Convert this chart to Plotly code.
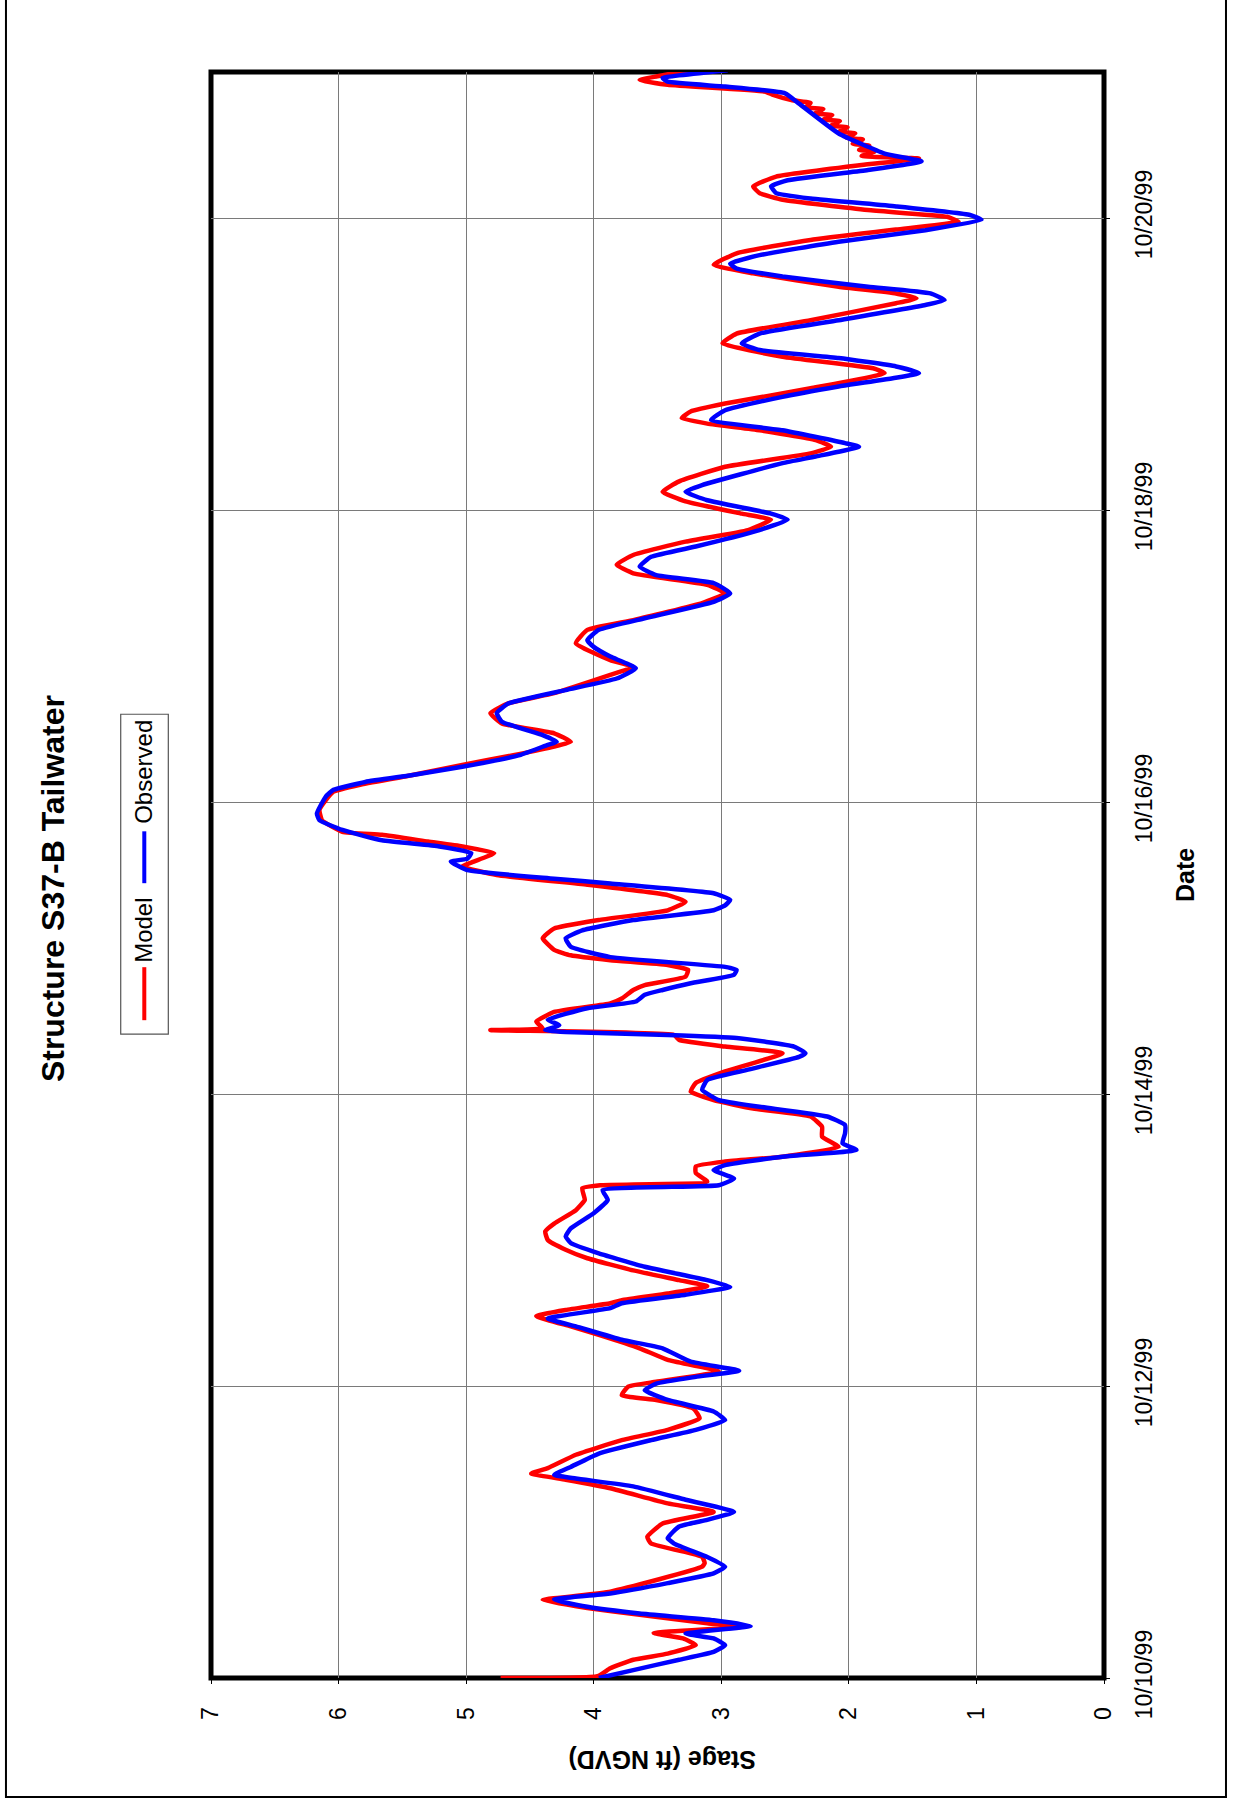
import pandas as pd
import plotly.graph_objects as go

# Hourly offsets from 10/10/99 00:00 and stage (ft NGVD) at the S37-B tailwater
model_hours = [
    0.0, 0.3, 1.6, 3.0, 4.0, 5.4, 6.5, 7.4, 8.4, 9.0, 10.4, 11.5, 12.8, 14.2,
    18.3, 18.9, 19.9, 20.5, 22.1, 23.2, 25.4, 27.3, 28.7, 31.2, 32.6, 33.6,
    34.5, 36.7, 39.1, 40.8, 42.7, 44.3, 45.7, 46.5, 47.9, 48.7, 50.4, 52.3,
    54.2, 56.4, 57.8, 59.5, 60.5, 61.6, 62.1, 63.2, 64.4, 65.4, 67.0, 69.0,
    70.4, 72.0, 73.4, 74.7, 76.9, 78.6, 80.5, 81.0, 81.6, 83.0, 84.1, 84.9,
    85.7, 87.3, 89.0, 90.6, 92.3, 93.6, 95.0, 96.4, 97.8, 99.7, 102.7, 103.8,
    104.9, 105.7, 106.5, 106.8, 107.9, 109.5, 110.9, 111.7, 113.1, 113.9,
    115.3, 116.4, 117.2, 118.0, 118.8, 119.7, 121.6, 123.2, 124.6, 126.2,
    127.6, 128.7, 130.4, 132.0, 133.4, 134.2, 135.6, 136.7, 137.5, 138.6,
    139.1, 141.0, 142.7, 144.3, 145.7, 146.8, 148.2, 150.1, 151.7, 153.1,
    153.9, 155.3, 156.9, 158.6, 160.2, 161.9, 164.9, 166.2, 167.3, 170.1,
    172.3, 173.9, 176.7, 178.3, 179.7, 181.6, 183.0, 184.6, 186.8, 188.7,
    190.4, 191.4, 193.4, 195.0, 196.7, 199.1, 201.3, 202.4, 203.5, 205.1,
    206.2, 207.1, 208.2, 209.5, 212.0, 214.5, 215.3, 217.2, 219.4, 221.0,
    223.2, 226.0, 226.8, 227.6, 228.7, 230.9, 232.3, 234.2, 236.4, 238.1,
    239.4, 240.2, 241.3, 243.0, 244.1, 245.2, 246.8, 248.7, 249.8, 250.2,
    250.9, 251.2, 251.9, 252.2, 252.9, 253.2, 253.9, 254.2, 254.9, 255.2,
    255.9, 256.2, 256.9, 257.2, 257.9, 258.2, 258.9, 259.4, 260.3, 260.8,
    261.9, 262.7, 263.3, 264.3,
]
model_stage = [
    4.73, 3.97, 3.87, 3.69, 3.42, 3.20, 3.30, 3.53, 2.84, 3.11, 3.64, 4.05, 4.40, 3.87,
    3.15, 3.13, 3.15, 3.24, 3.55, 3.58, 3.46, 3.06, 3.42, 3.87, 4.22, 4.49,
    4.36, 4.14, 3.78, 3.42, 3.17, 3.22, 3.51, 3.78, 3.73, 3.51, 3.02, 3.42,
    3.64, 3.96, 4.18, 4.45, 4.22, 3.87, 3.78, 3.42, 3.11, 3.33, 3.69, 4.05,
    4.22, 4.36, 4.38, 4.31, 4.14, 4.07, 4.09, 3.95, 3.11, 3.20, 3.20, 2.97,
    2.52, 2.08, 2.21, 2.21, 2.30, 2.75, 3.06, 3.24, 3.20, 2.97, 2.52, 2.97,
    3.33, 3.37, 4.81, 4.40, 4.45, 4.31, 3.87, 3.78, 3.69, 3.60,
    3.28, 3.26, 3.42, 3.87, 4.18, 4.31, 4.40, 4.31, 3.96, 3.42,
    3.28, 3.42, 4.05, 4.76, 5.03, 4.94, 4.78, 5.03, 5.30, 5.66,
    5.97, 6.13, 6.15, 6.10, 6.04, 5.84, 5.48, 5.03, 4.63, 4.31,
    4.18, 4.31, 4.72, 4.81, 4.67, 4.31, 3.87, 3.69, 3.87, 4.14,
    4.05, 3.69, 3.15, 2.97, 3.11, 3.69, 3.82, 3.69, 3.28, 2.79,
    2.61, 2.84, 3.28, 3.46, 3.33, 2.97, 2.30, 2.14, 2.26, 2.70,
    3.11, 3.31, 3.24, 2.97, 2.30, 1.72, 1.81, 2.52, 2.99, 2.88,
    2.30, 1.63, 1.47, 1.63, 2.08, 2.75, 3.06, 2.88, 2.30, 1.63,
    1.14, 1.23, 1.85, 2.52, 2.70, 2.75, 2.57, 1.90, 1.45, 1.90,
    1.80, 1.92, 1.84, 1.97, 1.89, 2.02, 1.95, 2.08, 2.01, 2.14,
    2.07, 2.20, 2.13, 2.27, 2.20, 2.34, 2.30, 2.45, 2.60, 2.66,
    3.42, 3.64, 3.50, 3.25,
]

observed_hours = [
    0.0, 1.3, 3.0, 4.3, 5.4, 6.5, 7.3, 8.55, 9.5, 10.6, 11.7, 12.9, 13.9, 15.6,
    17.2, 18.3, 19.9, 22.1, 23.0, 24.9, 26.0, 27.3, 29.3, 31.5, 32.8, 33.4,
    34.7, 36.9, 39.1, 40.8, 42.4, 43.8, 45.7, 47.3, 48.4, 49.5, 50.5, 52.0,
    54.2, 55.6, 57.8, 59.1, 60.8, 61.6, 63.0, 64.3, 65.4, 67.6, 69.8, 71.5,
    72.6, 73.9, 76.4, 78.6, 80.2, 81.0, 82.1, 83.5, 84.3, 85.7, 86.8, 87.9,
    89.5, 90.9, 92.3, 93.9, 95.0, 96.7, 98.3, 100.0, 102.1, 102.7, 103.8,
    105.2, 105.7, 106.2, 106.5, 107.3, 108.2, 110.1, 111.2, 112.3, 113.1,
    114.2, 115.6, 116.4, 116.9, 118.5, 120.2, 121.6, 122.9, 124.6, 126.2,
    127.0, 127.9, 129.0, 130.6, 131.4, 132.8, 134.2, 134.7, 135.6, 136.7,
    137.7, 139.4, 141.0, 142.1, 144.9, 146.0, 147.3, 148.4, 149.8, 151.7,
    153.4, 153.9, 155.0, 157.2, 158.6, 160.2, 162.4, 164.3, 166.0, 167.9,
    169.5, 170.6, 172.3, 174.2, 176.9, 178.3, 180.0, 181.3, 182.7, 184.3,
    186.0, 188.4, 190.4, 191.4, 193.6, 195.0, 196.1, 199.7, 200.8, 202.4,
    203.0, 205.1, 206.8, 208.4, 210.6, 212.3, 214.5, 215.6, 217.0, 218.3,
    219.4, 221.0, 223.2, 225.7, 226.5, 227.6, 228.7, 230.4, 231.7, 232.5,
    233.9, 236.1, 238.0, 239.7, 240.5, 241.9, 243.2, 244.1, 245.2, 246.2,
    247.9, 249.3, 250.6, 253.9, 258.8, 260.5, 261.6, 262.4, 263.0, 264.3,
]
observed_stage = [
    3.96, 3.69, 3.33, 3.06, 2.97, 3.06, 3.28, 2.77, 3.06, 3.64, 4.05, 4.31, 3.87, 3.42,
    3.06, 2.97, 3.11, 3.37, 3.42, 3.33, 3.11, 2.90, 3.28, 3.69, 4.14, 4.31,
    4.18, 3.96, 3.55, 3.20, 2.97, 3.06, 3.42, 3.60, 3.51, 3.20, 2.86, 3.24,
    3.46, 3.78, 4.14, 4.36, 3.87, 3.78, 3.28, 2.93, 3.11, 3.60, 3.96, 4.18,
    4.22, 4.18, 4.00, 3.89, 3.93, 3.02, 2.90, 3.06, 2.97, 2.52, 1.94, 2.05,
    2.03, 2.03, 2.17, 2.70, 3.02, 3.15, 3.11, 2.79, 2.39, 2.34, 2.43,
    2.88, 3.42, 4.22, 4.38, 4.27, 4.36, 4.05, 3.67, 3.60, 3.46,
    3.24, 2.90, 2.88, 2.97, 3.87, 4.18, 4.22, 4.09, 3.69, 3.06,
    2.97, 2.93, 3.06, 3.87, 4.31, 4.99, 5.12, 4.99, 4.96, 5.21,
    5.66, 5.97, 6.15, 6.17, 6.10, 6.04, 5.79, 5.43, 5.03, 4.58,
    4.36, 4.29, 4.40, 4.72, 4.76, 4.67, 4.22, 3.82, 3.67, 3.87,
    4.00, 4.05, 3.96, 3.60, 3.06, 2.93, 3.06, 3.51, 3.64, 3.55,
    3.20, 2.75, 2.48, 2.61, 3.11, 3.28, 3.15, 2.52, 2.26, 1.92,
    2.03, 2.52, 3.08, 2.97, 2.52, 2.08, 1.45, 1.63, 2.08, 2.70,
    2.84, 2.70, 2.08, 1.40, 1.25, 1.36, 1.85, 2.52, 2.88, 2.93,
    2.70, 2.08, 1.40, 0.96, 1.05, 1.63, 2.30, 2.57, 2.61, 2.48,
    1.85, 1.43, 1.72, 2.08, 2.39, 2.50, 2.97, 3.42, 3.46, 2.95,
]

start = pd.Timestamp("1999-10-10")
model_time = start + pd.to_timedelta(model_hours, unit="h")
observed_time = start + pd.to_timedelta(observed_hours, unit="h")

FONT = "Liberation Sans, Arial, sans-serif"

fig = go.Figure()
fig.add_trace(go.Scatter(x=model_stage, y=model_time, mode="lines", name="Model",
                         line=dict(color="#FF0000", width=4.5, shape="spline", smoothing=0.4),
                         showlegend=False))
fig.add_trace(go.Scatter(x=observed_stage, y=observed_time, mode="lines", name="Observed",
                         line=dict(color="#0000FF", width=4.5, shape="spline", smoothing=0.4),
                         showlegend=False))

# Page is laid out sideways: stage runs right-to-left, time runs bottom-to-top
fig.update_xaxes(
    range=[7, 0], dtick=1, tick0=0,
    showgrid=True, gridcolor="#7a7a7a", gridwidth=1,
    zeroline=False, showline=False,
    ticks="outside", ticklen=5, tickcolor="black",
    tickangle=-90, tickfont=dict(family=FONT, size=23, color="black"),
    ticklabelstandoff=14,
)
fig.update_yaxes(
    type="date", side="right",
    range=["1999-10-10", "1999-10-21"],
    tick0="1999-10-10", dtick=2 * 86400000, tickformat="%m/%d/%y",
    showgrid=True, gridcolor="#7a7a7a", gridwidth=1,
    zeroline=False, showline=False,
    ticks="outside", ticklen=5, tickcolor="black",
    tickangle=-90, tickfont=dict(family=FONT, size=23, color="black"),
    ticklabelstandoff=14,
)

shapes = [
    # outer page frame
    dict(type="rect", xref="paper", yref="paper", x0=-0.2296, x1=1.1366,
         y0=-0.0741, y1=1.05, line=dict(color="black", width=2), layer="below"),
    # heavy plot-area border
    dict(type="rect", xref="paper", yref="paper", x0=0, x1=1, y0=0, y1=1,
         line=dict(color="black", width=5), layer="below"),
    # legend box
    dict(type="rect", xref="paper", yref="paper", x0=-0.1011, x1=-0.0478,
         y0=0.4009, y1=0.6001, line=dict(color="#555555", width=1.2),
         fillcolor="white", layer="below"),
    # legend swatches
    dict(type="line", xref="paper", yref="paper", x0=-0.0747, x1=-0.0747,
         y0=0.4096, y1=0.4426, line=dict(color="#FF0000", width=4)),
    dict(type="line", xref="paper", yref="paper", x0=-0.0747, x1=-0.0747,
         y0=0.4949, y1=0.5272, line=dict(color="#0000FF", width=4)),
]

annotations = [
    dict(text="<b>Structure S37-B Tailwater</b>", xref="paper", yref="paper",
         x=-0.1770, y=0.4918, textangle=-90, showarrow=False,
         xanchor="center", yanchor="middle",
         font=dict(family=FONT, size=32, color="black")),
    dict(text="Model", xref="paper", yref="paper", x=-0.0755, y=0.4656,
         textangle=-90, showarrow=False, xanchor="center", yanchor="middle",
         font=dict(family=FONT, size=24, color="black")),
    dict(text="Observed", xref="paper", yref="paper", x=-0.0755, y=0.5640,
         textangle=-90, showarrow=False, xanchor="center", yanchor="middle",
         font=dict(family=FONT, size=24, color="black")),
    dict(text="<b>Stage (ft NGVD)</b>", xref="paper", yref="paper",
         x=0.505, y=-0.0510, textangle=180, showarrow=False,
         xanchor="center", yanchor="middle",
         font=dict(family=FONT, size=25, color="black")),
    dict(text="<b>Date</b>", xref="paper", yref="paper",
         x=1.0907, y=0.5000, textangle=-90, showarrow=False,
         xanchor="center", yanchor="middle",
         font=dict(family=FONT, size=25, color="black")),
]

fig.update_layout(
    width=1233, height=1808,
    margin=dict(l=211, r=129, t=72, b=130),
    paper_bgcolor="white", plot_bgcolor="rgba(0,0,0,0)",
    shapes=shapes, annotations=annotations,
    showlegend=False,
    font=dict(family=FONT),
)

fig.write_html("out.html")
